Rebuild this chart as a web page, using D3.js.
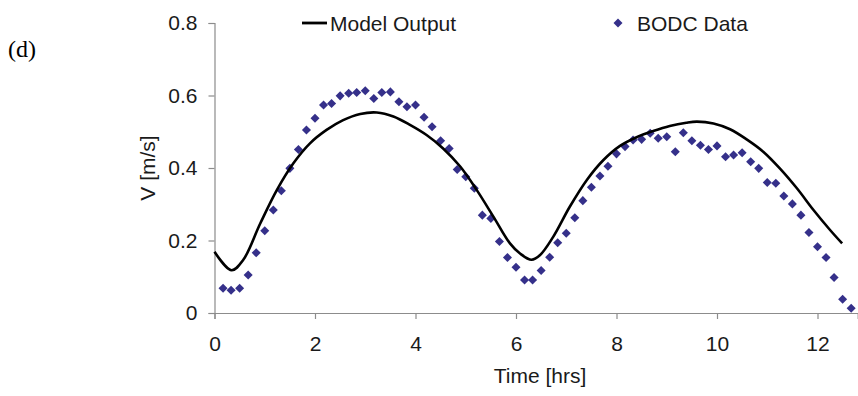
<!DOCTYPE html>
<html>
<head>
<meta charset="utf-8">
<script src="https://cdn.jsdelivr.net/npm/d3@7"></script>
<style>
  body { margin: 0; background: #fff; }
  svg { display: block; font-family: "Liberation Sans", Arial, sans-serif; }
</style>
</head>
<body>
<div id="svgdiv"></div>
<script>
// BODC observations, sampled every 10 minutes
var obsTime = [0.17, 0.33, 0.5, 0.67, 0.83, 1.0, 1.17, 1.33, 1.5, 1.67, 1.83, 2.0,
  2.17, 2.33, 2.5, 2.67, 2.83, 3.0, 3.17, 3.33, 3.5, 3.67, 3.83, 4.0,
  4.17, 4.33, 4.5, 4.67, 4.83, 5.0, 5.17, 5.33, 5.5, 5.67, 5.83, 6.0,
  6.17, 6.33, 6.5, 6.67, 6.83, 7.0, 7.17, 7.33, 7.5, 7.67, 7.83, 8.0,
  8.17, 8.33, 8.5, 8.67, 8.83, 9.0, 9.17, 9.33, 9.5, 9.67, 9.83, 10.0,
  10.17, 10.33, 10.5, 10.67, 10.83, 11.0, 11.17, 11.33, 11.5, 11.67, 11.83, 12.0,
  12.17, 12.33, 12.5, 12.67];
var obsV = [0.068, 0.063, 0.068, 0.105, 0.166, 0.227, 0.284, 0.337, 0.399, 0.451, 0.505, 0.537,
  0.574, 0.578, 0.599, 0.606, 0.608, 0.613, 0.592, 0.608, 0.61, 0.583, 0.569, 0.574,
  0.54, 0.514, 0.475, 0.454, 0.396, 0.376, 0.344, 0.27, 0.261, 0.197, 0.153, 0.126,
  0.091, 0.091, 0.117, 0.154, 0.194, 0.22, 0.263, 0.31, 0.347, 0.378, 0.405, 0.439,
  0.459, 0.477, 0.479, 0.496, 0.482, 0.486, 0.445, 0.497, 0.475, 0.463, 0.451, 0.461,
  0.431, 0.436, 0.442, 0.417, 0.399, 0.36, 0.358, 0.323, 0.301, 0.27, 0.222, 0.183,
  0.153, 0.098, 0.038, 0.013];

// model output curve
var modelTime = [0.0, 0.34, 0.57, 0.91, 1.24, 1.57, 1.9, 2.23, 2.56, 2.9, 3.23, 3.56,
  3.89, 4.22, 4.55, 4.89, 5.22, 5.55, 5.88, 6.08, 6.31, 6.48, 6.74, 7.07, 7.41,
  7.74, 8.07, 8.4, 8.73, 9.06, 9.39, 9.6, 9.93, 10.26, 10.59, 10.92, 11.25,
  11.59, 11.92, 12.25, 12.49];
var modelV = [0.169, 0.118, 0.146, 0.247, 0.339, 0.413, 0.468, 0.505, 0.532, 0.549, 0.553, 0.542,
  0.519, 0.491, 0.454, 0.404, 0.339, 0.266, 0.192, 0.164, 0.147, 0.16, 0.21, 0.293, 0.367,
  0.422, 0.461, 0.485, 0.502, 0.516, 0.525, 0.528, 0.523, 0.507, 0.479, 0.445, 0.399,
  0.344, 0.284, 0.229, 0.192];

var xTicks = [0, 2, 4, 6, 8, 10, 12];
var yTicks = [0, 0.2, 0.4, 0.6, 0.8];

var width = 858, height = 396;
var axisColor = "#8c8c8c";
var dotColor = "#35308a";

let svg = d3.select("#svgdiv").append("svg")
    .attr("width", width)
    .attr("height", height);

var x = d3.scaleLinear().domain([0, 12.8]).range([214.5, 857.7]);
var y = d3.scaleLinear().domain([0, 0.8]).range([313, 23]);

// panel label
svg.append("text")
  .text("(d)")
  .attr("x", 8)
  .attr("y", 57)
  .style("font-family", "'Liberation Serif', 'Times New Roman', serif")
  .style("font-size", "24px")
  .attr("fill", "#000");

// y axis
let yAxis = svg.append("g")
  .attr("transform", "translate(" + x(0) + ",0)")
  .call(d3.axisLeft(y).tickValues(yTicks).tickSize(6).tickPadding(11)
        .tickFormat(d => d === 0 ? "0" : d3.format(".1f")(d)));

// x axis
let xAxis = svg.append("g")
  .attr("transform", "translate(0," + y(0) + ")")
  .call(d3.axisBottom(x).tickValues(xTicks).tickSize(6).tickPadding(17)
        .tickFormat(d3.format("d")));

[xAxis, yAxis].forEach(function(a){
  a.select(".domain").attr("stroke", axisColor).attr("stroke-width", 1.2);
  a.selectAll(".tick line").attr("stroke", axisColor).attr("stroke-width", 1.2);
  a.selectAll(".tick text")
    .attr("fill", "#1a1a1a")
    .style("font-family", "'Liberation Sans', Arial, sans-serif")
    .style("font-size", "21px");
});

// axis titles
svg.append("text")
  .text("Time [hrs]")
  .attr("x", 540)
  .attr("y", 383)
  .attr("text-anchor", "middle")
  .style("font-size", "21px")
  .attr("fill", "#1a1a1a");

svg.append("text")
  .text("V [m/s]")
  .attr("transform", "translate(155," + y(0.4) + ") rotate(-90)")
  .attr("text-anchor", "middle")
  .style("font-size", "21px")
  .attr("fill", "#1a1a1a");

// observations as diamonds
let diamond = d3.symbol().type(d3.symbolDiamond2).size(52);
svg.append("g").selectAll("path")
  .data(obsTime.map((t, i) => ({t: t, v: obsV[i]})))
  .join("path")
  .attr("d", diamond)
  .attr("transform", d => "translate(" + x(d.t) + "," + y(d.v) + ")")
  .attr("fill", dotColor);

// model curve
let line = d3.line()
  .x(d => x(d.t))
  .y(d => y(d.v))
  .curve(d3.curveCatmullRom.alpha(0.5));

svg.append("path")
  .datum(modelTime.map((t, i) => ({t: t, v: modelV[i]})))
  .attr("d", line)
  .attr("fill", "none")
  .attr("stroke", "#000")
  .attr("stroke-width", 2.6);

// legend
svg.append("line")
  .attr("x1", 302).attr("x2", 327)
  .attr("y1", 23).attr("y2", 23)
  .attr("stroke", "#000")
  .attr("stroke-width", 2.8);

svg.append("text")
  .text("Model Output")
  .attr("x", 330)
  .attr("y", 31)
  .style("font-size", "21px")
  .attr("fill", "#1a1a1a");

svg.append("path")
  .attr("d", diamond)
  .attr("transform", "translate(618,23)")
  .attr("fill", dotColor);

svg.append("text")
  .text("BODC Data")
  .attr("x", 637)
  .attr("y", 31)
  .style("font-size", "21px")
  .attr("fill", "#1a1a1a");
</script>
</body>
</html>
